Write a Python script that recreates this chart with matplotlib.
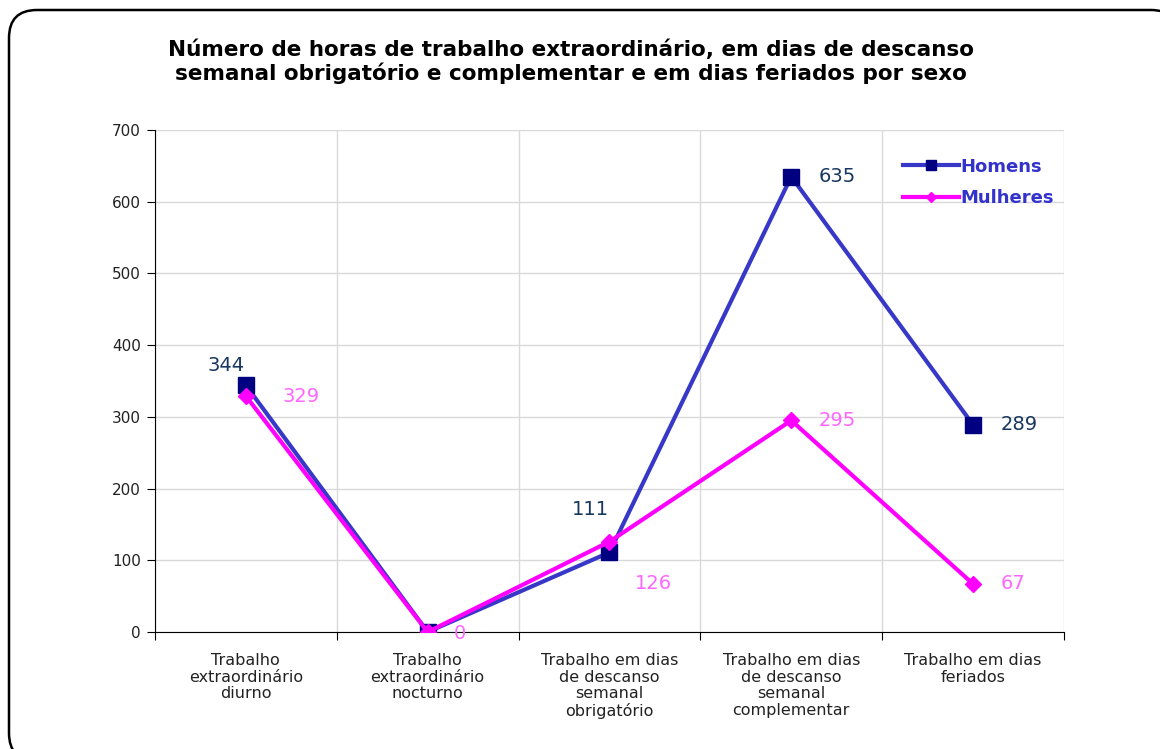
import matplotlib
matplotlib.use('Agg')
import matplotlib.pyplot as plt
from matplotlib.patches import FancyBboxPatch

plt.rcParams['font.family'] = ['DejaVu Sans']

# data
categories = ['Trabalho\nextraordinário\ndiurno',
              'Trabalho\nextraordinário\nnocturno',
              'Trabalho em dias\nde descanso\nsemanal\nobrigatório',
              'Trabalho em dias\nde descanso\nsemanal\ncomplementar',
              'Trabalho em dias\nferiados']
homens = [344, 0, 111, 635, 289]
mulheres = [329, 0, 126, 295, 67]

# label offsets in points (dx, dy)
homens_off = [(-14, 14), None, (-14, 31), (33, 0), (33, 0)]
mulheres_off = [(40, 0), (23, -1), (32, -30), (33, 0), (29, 0)]

fig = plt.figure(figsize=(11.6, 7.49), dpi=100)
ax = fig.add_axes([0.1336, 0.1562, 0.7836, 0.6702])

# rounded outer frame
frame = FancyBboxPatch((0.09, -0.12), 11.7, 7.51, boxstyle='round,pad=0,rounding_size=0.28',
                       transform=fig.dpi_scale_trans, facecolor='white', edgecolor='black',
                       linewidth=1.8, zorder=-10)
fig.patches.append(frame)

x = [i + 0.5 for i in range(len(categories))]
ax.plot(x, homens, color='#3838C8', linewidth=3, marker='s', markersize=11,
        markerfacecolor='#000080', markeredgecolor='#000080', label='Homens', zorder=3)
ax.plot(x, mulheres, color='#FF00FF', linewidth=3, marker='D', markersize=8,
        markerfacecolor='#FF00FF', markeredgecolor='#FF00FF', label='Mulheres', zorder=4)

for xi, v, off in zip(x, homens, homens_off):
    if off is None:
        continue
    ax.annotate(str(v), (xi, v), xytext=off, textcoords='offset points',
                ha='center', va='center', fontsize=14, color='#17375E')
for xi, v, off in zip(x, mulheres, mulheres_off):
    ax.annotate(str(v), (xi, v), xytext=off, textcoords='offset points',
                ha='center', va='center', fontsize=14, color='#FF66FF')

ax.set_xlim(0, 5)
ax.set_ylim(0, 700)
ax.set_yticks(range(0, 701, 100))
ax.set_xticks(range(0, 6))
ax.set_xticklabels([])
ax.set_xticks(x, minor=True)
ax.set_xticklabels(categories, minor=True, fontsize=11.5, color='#222222', linespacing=1.15)
ax.tick_params(axis='x', which='minor', length=0, pad=15)
ax.tick_params(axis='x', which='major', length=6, direction='out')
ax.tick_params(axis='y', length=6, direction='out', labelsize=11, labelcolor='#222222', pad=4)

ax.grid(True, which='major', color='#D9D9D9', linewidth=1)
ax.set_axisbelow(True)
for s in ['top', 'right']:
    ax.spines[s].set_visible(False)
ax.spines['left'].set_color('black')
ax.spines['bottom'].set_color('black')

leg = ax.legend(loc='upper left', bbox_to_anchor=(0.823, 0.945), frameon=False,
                borderaxespad=0, borderpad=0, markerscale=0.6,
                prop={'size': 13, 'weight': 'bold'}, handlelength=3.1,
                handletextpad=0.1, labelspacing=0.75)
for t in leg.get_texts():
    t.set_color('#3333CC')

fig.text(0.492, 0.917, 'Número de horas de trabalho extraordinário, em dias de descanso\n'
         'semanal obrigatório e complementar e em dias feriados por sexo',
         ha='center', va='center', fontsize=15.5, fontweight='bold', linespacing=1.15)

fig.savefig('out.png', dpi=100)
